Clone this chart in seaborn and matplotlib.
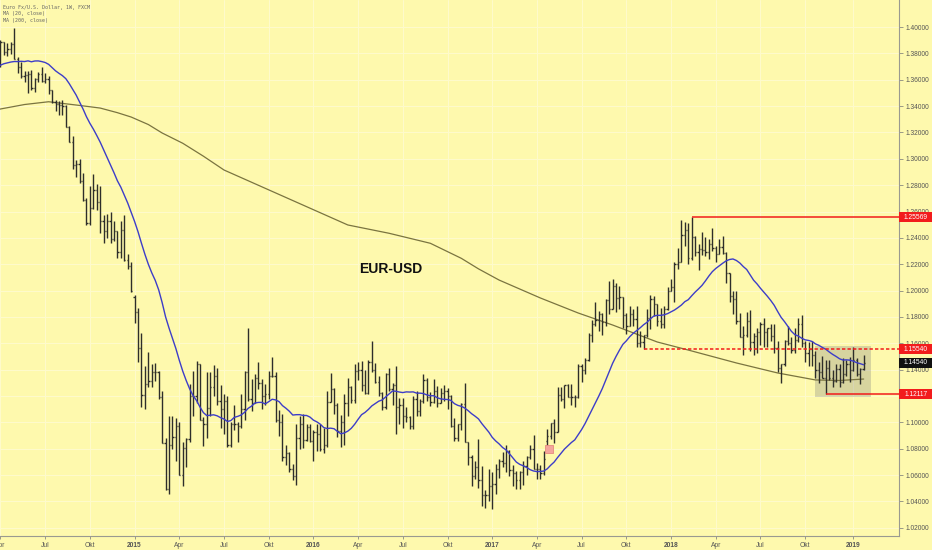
import matplotlib
matplotlib.use("Agg")
import matplotlib.pyplot as plt
import matplotlib.dates as mdates
from matplotlib.patches import Rectangle
from matplotlib.transforms import blended_transform_factory
from matplotlib.ticker import FormatStrFormatter
import numpy as np
import pandas as pd
import seaborn as sns

sns.set_theme(style="white")
plt.rcParams['font.family'] = ['Liberation Sans', 'DejaVu Sans']

# ---------------- data (weekly EUR/USD bars, week starting Monday) ----------------
first_week = "2014-03-31"

# closes before the visible window, only used for the 20-week average
pre_closes = [1.3590, 1.3590, 1.3705, 1.3740, 1.3675, 1.3705, 1.3590, 1.3670, 1.3540, 1.3680,
              1.3485, 1.3635, 1.3690, 1.3745, 1.3805, 1.3910, 1.3915, 1.3790, 1.3750]

open_2014 = [1.3750, 1.3705, 1.3885, 1.3810, 1.3830, 1.3870, 1.3755, 1.3695, 1.3630, 1.3635,
             1.3645, 1.3540, 1.3605, 1.3645, 1.3590, 1.3605, 1.3525, 1.3430, 1.3415, 1.3410,
             1.3400, 1.3240, 1.3130, 1.2950, 1.2960, 1.2830, 1.2685, 1.2515, 1.2630, 1.2760,
             1.2670, 1.2525, 1.2455, 1.2525, 1.2390, 1.2450, 1.2290, 1.2460, 1.2230, 1.2190]
high_2014 = [1.3810, 1.3905, 1.3890, 1.3875, 1.3890, 1.3993, 1.3775, 1.3735, 1.3670, 1.3670,
             1.3675, 1.3615, 1.3655, 1.3700, 1.3650, 1.3625, 1.3525, 1.3445, 1.3440, 1.3445,
             1.3405, 1.3250, 1.3170, 1.2990, 1.3000, 1.2890, 1.2700, 1.2790, 1.2885, 1.2810,
             1.2790, 1.2575, 1.2580, 1.2600, 1.2530, 1.2455, 1.2530, 1.2570, 1.2280, 1.2220]
low_2014 = [1.3673, 1.3700, 1.3790, 1.3780, 1.3795, 1.3755, 1.3650, 1.3615, 1.3585, 1.3503,
            1.3525, 1.3510, 1.3585, 1.3585, 1.3575, 1.3490, 1.3420, 1.3365, 1.3335, 1.3335,
            1.3240, 1.3130, 1.2920, 1.2860, 1.2820, 1.2680, 1.2500, 1.2500, 1.2620, 1.2615,
            1.2440, 1.2360, 1.2400, 1.2360, 1.2380, 1.2245, 1.2250, 1.2225, 1.2165, 1.1990]
close_2014 = [1.3705, 1.3885, 1.3810, 1.3830, 1.3870, 1.3755, 1.3695, 1.3630, 1.3635, 1.3645,
              1.3540, 1.3605, 1.3645, 1.3590, 1.3605, 1.3525, 1.3430, 1.3415, 1.3410, 1.3400,
              1.3240, 1.3130, 1.2950, 1.2960, 1.2830, 1.2685, 1.2515, 1.2630, 1.2760, 1.2670,
              1.2525, 1.2455, 1.2525, 1.2390, 1.2450, 1.2290, 1.2460, 1.2230, 1.2190, 1.2000]

open_2015 = [1.1950, 1.1840, 1.1565, 1.1205, 1.1290, 1.1315, 1.1385, 1.1380, 1.1195, 1.0845,
             1.0495, 1.0825, 1.0890, 1.0970, 1.0600, 1.0805, 1.0875, 1.1200, 1.1200, 1.1445,
             1.1015, 1.0985, 1.1110, 1.1265, 1.1350, 1.1165, 1.1105, 1.1165, 1.0830, 1.0985,
             1.0985, 1.0970, 1.1105, 1.1385, 1.1180, 1.1150, 1.1340, 1.1300, 1.1200, 1.1215,
             1.1355, 1.1350, 1.1015, 1.1005, 1.0740, 1.0770, 1.0645, 1.0590, 1.0885, 1.0990,
             1.0865, 1.0965]
high_2015 = [1.1970, 1.1870, 1.1680, 1.1425, 1.1535, 1.1445, 1.1450, 1.1390, 1.1240, 1.0885,
             1.1045, 1.1050, 1.1035, 1.1000, 1.0850, 1.0885, 1.1290, 1.1390, 1.1465, 1.1445,
             1.1040, 1.1380, 1.1385, 1.1435, 1.1410, 1.1280, 1.1215, 1.1200, 1.1000, 1.1130,
             1.1000, 1.1215, 1.1390, 1.1715, 1.1330, 1.1370, 1.1460, 1.1330, 1.1295, 1.1390,
             1.1495, 1.1385, 1.1095, 1.1060, 1.0830, 1.0775, 1.0685, 1.0985, 1.1045, 1.1060,
             1.0990, 1.0990]
low_2015 = [1.1755, 1.1460, 1.1115, 1.1100, 1.1270, 1.1270, 1.1315, 1.1175, 1.0840, 1.0485,
            1.0460, 1.0800, 1.0710, 1.0600, 1.0520, 1.0660, 1.0850, 1.1050, 1.1150, 1.1015,
            1.0820, 1.0885, 1.1050, 1.1200, 1.1130, 1.0955, 1.0915, 1.0810, 1.0810, 1.0940,
            1.0850, 1.0960, 1.1020, 1.1160, 1.1085, 1.1150, 1.1250, 1.1105, 1.1135, 1.1180,
            1.1345, 1.1005, 1.0895, 1.0705, 1.0675, 1.0620, 1.0565, 1.0525, 1.0795, 1.0805,
            1.0860, 1.0850]
close_2015 = [1.1840, 1.1565, 1.1205, 1.1290, 1.1315, 1.1385, 1.1380, 1.1195, 1.0845, 1.0495,
              1.0825, 1.0890, 1.0970, 1.0600, 1.0805, 1.0875, 1.1200, 1.1200, 1.1445, 1.1015,
              1.0985, 1.1110, 1.1265, 1.1350, 1.1165, 1.1105, 1.1165, 1.0830, 1.0985, 1.0985,
              1.0970, 1.1105, 1.1385, 1.1180, 1.1150, 1.1340, 1.1300, 1.1200, 1.1215, 1.1355,
              1.1350, 1.1015, 1.1005, 1.0740, 1.0770, 1.0645, 1.0590, 1.0885, 1.0990, 1.0865,
              1.0965, 1.0860]

open_2016 = [1.0860, 1.0925, 1.0915, 1.0795, 1.0830, 1.1155, 1.1255, 1.1130, 1.0935, 1.1000,
             1.1150, 1.1270, 1.1170, 1.1390, 1.1400, 1.1285, 1.1225, 1.1455, 1.1400, 1.1310,
             1.1225, 1.1115, 1.1365, 1.1250, 1.1280, 1.1115, 1.1135, 1.1050, 1.1040, 1.0975,
             1.1175, 1.1085, 1.1165, 1.1325, 1.1195, 1.1155, 1.1235, 1.1150, 1.1225, 1.1240,
             1.1200, 1.0970, 1.0880, 1.0985, 1.1140, 1.0855, 1.0735, 1.0590, 1.0665, 1.0560,
             1.0450, 1.0450]
high_2016 = [1.0945, 1.0990, 1.0990, 1.0960, 1.1240, 1.1375, 1.1260, 1.1145, 1.1055, 1.1215,
             1.1340, 1.1275, 1.1440, 1.1455, 1.1465, 1.1400, 1.1470, 1.1616, 1.1450, 1.1350,
             1.1230, 1.1375, 1.1415, 1.1300, 1.1425, 1.1185, 1.1185, 1.1120, 1.1050, 1.1200,
             1.1235, 1.1175, 1.1365, 1.1340, 1.1230, 1.1330, 1.1275, 1.1260, 1.1280, 1.1260,
             1.1205, 1.1035, 1.0990, 1.1145, 1.1300, 1.0855, 1.0750, 1.0710, 1.0875, 1.0670,
             1.0485, 1.0650]
low_2016 = [1.0710, 1.0780, 1.0780, 1.0770, 1.0810, 1.1155, 1.1065, 1.0890, 1.0810, 1.0825,
            1.1050, 1.1145, 1.1145, 1.1325, 1.1235, 1.1215, 1.1215, 1.1385, 1.1300, 1.1200,
            1.1095, 1.1100, 1.1240, 1.1130, 1.0915, 1.0990, 1.0955, 1.1000, 1.0950, 1.0950,
            1.1045, 1.1045, 1.1145, 1.1160, 1.1125, 1.1150, 1.1120, 1.1145, 1.1160, 1.1105,
            1.0965, 1.0860, 1.0860, 1.0940, 1.0850, 1.0680, 1.0520, 1.0570, 1.0505, 1.0365,
            1.0350, 1.0400]
close_2016 = [1.0925, 1.0915, 1.0795, 1.0830, 1.1155, 1.1255, 1.1130, 1.0935, 1.1000, 1.1150,
              1.1270, 1.1170, 1.1390, 1.1400, 1.1285, 1.1225, 1.1455, 1.1400, 1.1310, 1.1225,
              1.1115, 1.1365, 1.1250, 1.1280, 1.1115, 1.1135, 1.1050, 1.1040, 1.0975, 1.1175,
              1.1085, 1.1165, 1.1325, 1.1195, 1.1155, 1.1235, 1.1150, 1.1225, 1.1240, 1.1200,
              1.0970, 1.0880, 1.0985, 1.1140, 1.0855, 1.0735, 1.0590, 1.0665, 1.0560, 1.0450,
              1.0450, 1.0520]

open_2017 = [1.0520, 1.0535, 1.0645, 1.0705, 1.0695, 1.0785, 1.0640, 1.0615, 1.0560, 1.0620,
             1.0670, 1.0735, 1.0800, 1.0650, 1.0645, 1.0615, 1.0860, 1.0895, 1.0995, 1.0930,
             1.1210, 1.1180, 1.1280, 1.1195, 1.1195, 1.1195, 1.1425, 1.1400, 1.1470, 1.1665,
             1.1750, 1.1775, 1.1820, 1.1760, 1.1925, 1.1860, 1.2035, 1.1945, 1.1950, 1.1815,
             1.1735, 1.1820, 1.1785, 1.1605, 1.1610, 1.1665, 1.1795, 1.1935, 1.1895, 1.1770,
             1.1745, 1.1860]
high_2017 = [1.0620, 1.0685, 1.0720, 1.0775, 1.0830, 1.0790, 1.0680, 1.0630, 1.0630, 1.0705,
             1.0745, 1.0830, 1.0905, 1.0690, 1.0680, 1.0780, 1.0950, 1.0995, 1.1025, 1.1265,
             1.1270, 1.1285, 1.1295, 1.1295, 1.1205, 1.1445, 1.1445, 1.1490, 1.1680, 1.1775,
             1.1910, 1.1845, 1.1830, 1.1940, 1.2070, 1.2090, 1.2060, 1.2035, 1.1955, 1.1830,
             1.1880, 1.1860, 1.1880, 1.1690, 1.1665, 1.1860, 1.1965, 1.1960, 1.1900, 1.1865,
             1.1880, 1.2025]
low_2017 = [1.0340, 1.0455, 1.0580, 1.0660, 1.0620, 1.0590, 1.0520, 1.0495, 1.0495, 1.0525,
            1.0600, 1.0720, 1.0650, 1.0570, 1.0570, 1.0600, 1.0820, 1.0875, 1.0840, 1.0925,
            1.1160, 1.1110, 1.1190, 1.1130, 1.1120, 1.1185, 1.1310, 1.1370, 1.1465, 1.1610,
            1.1730, 1.1690, 1.1660, 1.1735, 1.1825, 1.1860, 1.1840, 1.1860, 1.1715, 1.1670,
            1.1730, 1.1730, 1.1575, 1.1575, 1.1554, 1.1645, 1.1710, 1.1810, 1.1730, 1.1715,
            1.1720, 1.1855]
close_2017 = [1.0535, 1.0645, 1.0705, 1.0695, 1.0785, 1.0640, 1.0615, 1.0560, 1.0620, 1.0670,
              1.0735, 1.0800, 1.0650, 1.0645, 1.0615, 1.0725, 1.0895, 1.0995, 1.0930, 1.1210,
              1.1180, 1.1280, 1.1195, 1.1195, 1.1195, 1.1425, 1.1400, 1.1470, 1.1665, 1.1750,
              1.1775, 1.1820, 1.1760, 1.1925, 1.1860, 1.2035, 1.1945, 1.1950, 1.1815, 1.1735,
              1.1820, 1.1785, 1.1605, 1.1610, 1.1665, 1.1795, 1.1935, 1.1895, 1.1770, 1.1745,
              1.1860, 1.2000]

open_2018 = [1.2000, 1.2030, 1.2200, 1.2220, 1.2425, 1.2460, 1.2250, 1.2405, 1.2295, 1.2315,
             1.2310, 1.2290, 1.2350, 1.2325, 1.2280, 1.2330, 1.2285, 1.2130, 1.1960, 1.1940,
             1.1770, 1.1650, 1.1660, 1.1770, 1.1610, 1.1655, 1.1685, 1.1745, 1.1685, 1.1720,
             1.1655, 1.1565, 1.1410, 1.1440, 1.1620, 1.1600, 1.1550, 1.1625, 1.1750, 1.1605,
             1.1525, 1.1560, 1.1510, 1.1400, 1.1385, 1.1335, 1.1415, 1.1335, 1.1315, 1.1405,
             1.1305, 1.1370, 1.1440]
high_2018 = [1.2090, 1.2220, 1.2325, 1.2537, 1.2520, 1.2510, 1.25569, 1.2415, 1.2355, 1.2445,
             1.2410, 1.2390, 1.2475, 1.2335, 1.2395, 1.2415, 1.2290, 1.2135, 1.1995, 1.1995,
             1.1830, 1.1730, 1.1840, 1.1850, 1.1675, 1.1720, 1.1760, 1.1790, 1.1720, 1.1750,
             1.1745, 1.1620, 1.1445, 1.1625, 1.1735, 1.1650, 1.1720, 1.1790, 1.1815, 1.1620,
             1.1610, 1.1620, 1.1545, 1.1455, 1.1500, 1.1475, 1.1470, 1.1400, 1.1440, 1.1440,
             1.1485, 1.1475, 1.1495]
low_2018 = [1.1995, 1.1915, 1.2165, 1.2215, 1.2335, 1.2205, 1.2235, 1.2260, 1.2155, 1.2270,
            1.2260, 1.2240, 1.2300, 1.2215, 1.2275, 1.2275, 1.2055, 1.1910, 1.1820, 1.1750,
            1.1645, 1.1510, 1.1645, 1.1540, 1.1510, 1.1525, 1.1590, 1.1575, 1.1575, 1.1615,
            1.1530, 1.1385, 1.1301, 1.1430, 1.1590, 1.1525, 1.1525, 1.1610, 1.1570, 1.1460,
            1.1430, 1.1430, 1.1335, 1.1300, 1.1335, 1.12117, 1.1325, 1.1265, 1.1310, 1.1270,
            1.1300, 1.1355, 1.1310]
close_2018 = [1.2030, 1.2200, 1.2220, 1.2425, 1.2460, 1.2250, 1.2405, 1.2295, 1.2315, 1.2310,
              1.2290, 1.2350, 1.2325, 1.2280, 1.2330, 1.2285, 1.2130, 1.1960, 1.1940, 1.1770,
              1.1650, 1.1660, 1.1770, 1.1610, 1.1655, 1.1685, 1.1745, 1.1685, 1.1720, 1.1655,
              1.1565, 1.1410, 1.1440, 1.1620, 1.1600, 1.1550, 1.1625, 1.1750, 1.1605, 1.1525,
              1.1560, 1.1510, 1.1400, 1.1385, 1.1335, 1.1415, 1.1335, 1.1315, 1.1405, 1.1305,
              1.1370, 1.1440, 1.1395]

open_2019 = [1.1395, 1.1470, 1.1365, 1.1405]
high_2019 = [1.1570, 1.1485, 1.1415, 1.1515]
low_2019 = [1.1390, 1.1355, 1.1290, 1.1400]
close_2019 = [1.1470, 1.1365, 1.1405, 1.14540]

# 200-week moving average
ma200_dates = ["2014-03-24", "2014-04-07", "2014-05-26", "2014-07-14", "2014-09-15", "2014-10-27",
               "2014-12-01", "2014-12-29", "2015-02-02", "2015-03-02", "2015-04-13", "2015-05-25",
               "2015-07-06", "2015-09-28", "2015-12-21", "2016-03-14", "2016-06-06", "2016-08-29",
               "2016-10-31", "2016-12-05", "2017-01-16", "2017-04-10", "2017-06-26", "2017-09-04",
               "2017-12-04", "2018-02-05", "2018-05-14", "2018-08-06", "2018-10-22", "2018-12-10",
               "2019-01-28"]
ma200_values = [1.3365, 1.3378, 1.3412, 1.3433, 1.3405, 1.3385,
                1.3350, 1.3317, 1.3260, 1.3196, 1.3118, 1.3020,
                1.2915, 1.2776, 1.2637, 1.2498, 1.2435, 1.2359,
                1.2245, 1.2165, 1.2080, 1.1944, 1.1830, 1.1739,
                1.1610, 1.1549, 1.1451, 1.1375, 1.1322, 1.1318,
                1.1329]

# annotations
level_prices = [1.25569, 1.15540, 1.14540, 1.12117]
level_labels = ["1.25569", "1.15540", "1.14540", "1.12117"]
level_colors = ["#f21c1c", "#f21c1c", "#111111", "#f21c1c"]
line_starts = {"1.25569": "2018-02-12", "1.15540": "2017-11-06", "1.12117": "2018-11-12"}
box_dates = ["2018-10-22", "2019-02-11"]
box_prices = [1.1193, 1.1580]
gap_marker_date = ["2017-04-28"]
gap_marker_price = [1.0795]

xtick_dates = ["2014-04-07", "2014-07-07", "2014-10-06", "2015-01-05", "2015-04-06", "2015-07-06",
               "2015-10-05", "2016-01-04", "2016-04-04", "2016-07-04", "2016-10-03", "2017-01-02",
               "2017-04-03", "2017-07-03", "2017-10-02", "2018-01-01", "2018-04-02", "2018-07-02",
               "2018-10-01", "2019-01-07"]
xtick_labels = ["Apr", "Jul", "Okt", "2015", "Apr", "Jul", "Okt", "2016", "Apr", "Jul", "Okt",
                "2017", "Apr", "Jul", "Okt", "2018", "Apr", "Jul", "Okt", "2019"]
ytick_values = [1.02, 1.04, 1.06, 1.08, 1.10, 1.12, 1.14, 1.16, 1.18, 1.20,
                1.22, 1.24, 1.26, 1.28, 1.30, 1.32, 1.34, 1.36, 1.38, 1.40]

# ---------------- assemble ----------------
opens = open_2014 + open_2015 + open_2016 + open_2017 + open_2018 + open_2019
highs = high_2014 + high_2015 + high_2016 + high_2017 + high_2018 + high_2019
lows = low_2014 + low_2015 + low_2016 + low_2017 + low_2018 + low_2019
closes = close_2014 + close_2015 + close_2016 + close_2017 + close_2018 + close_2019

dates = pd.date_range(first_week, periods=len(closes), freq="7D")
xnum = mdates.date2num(dates)
ma20 = pd.Series(pre_closes + closes).rolling(20).mean().iloc[len(pre_closes):].to_numpy()
df = pd.DataFrame({"x": xnum, "open": opens, "high": highs, "low": lows,
                   "close": closes, "ma20": ma20})
ma200_df = pd.DataFrame({"x": mdates.date2num(pd.to_datetime(ma200_dates)), "ma200": ma200_values})

# ---------------- figure ----------------
W, H = 932, 550
bg = "#fef9ad"
fig = plt.figure(figsize=(W / 100, H / 100), dpi=100)
fig.patch.set_facecolor(bg)
ax = fig.add_axes([0, 14 / H, 899 / W, 536 / H])
ax.set_facecolor(bg)

x_left = mdates.date2num(pd.Timestamp("2014-04-06"))
x_right = mdates.date2num(pd.Timestamp("2019-04-10"))
ax.set_xlim(x_left, x_right)
ax.set_ylim(1.0138, 1.4205)

# grid
ax.set_xticks(mdates.date2num(pd.to_datetime(xtick_dates)))
ax.set_xticklabels(xtick_labels)
ax.set_yticks(ytick_values)
ax.grid(True, color="#fffbcc", lw=0.7, zorder=0)
ax.set_axisbelow(True)

# moving averages
sns.lineplot(data=ma200_df, x="x", y="ma200", ax=ax, color="#7a7440", lw=0.9,
             errorbar=None, zorder=2)
sns.lineplot(data=df, x="x", y="ma20", ax=ax, color="#3d3dc8", lw=1.0,
             errorbar=None, zorder=4)

# OHLC bars
tick = 2.4  # days
bar_col = "#2e2e2a"
ax.vlines(df["x"], df["low"], df["high"], color=bar_col, lw=1.0, zorder=3)
ax.hlines(df["open"], df["x"] - tick, df["x"], color=bar_col, lw=1.0, zorder=3)
ax.hlines(df["close"], df["x"], df["x"] + tick, color=bar_col, lw=1.0, zorder=3)

# consolidation box
bx = mdates.date2num(pd.to_datetime(box_dates))
ax.add_patch(Rectangle((bx[0], box_prices[0]), bx[1] - bx[0], box_prices[1] - box_prices[0],
                       facecolor="#808080", alpha=0.3, edgecolor="none", zorder=1.5))

# gap marker
ax.scatter(mdates.date2num(pd.to_datetime(gap_marker_date)), gap_marker_price, marker="s", s=26,
           facecolor="#f4a59c", edgecolor="#e68a80", linewidths=0.6, zorder=5)

# horizontal levels
ls_map = {"1.25569": "-", "1.15540": (0, (2.2, 1.4)), "1.12117": "-"}
for lab, start in line_starts.items():
    p = level_prices[level_labels.index(lab)]
    ax.hlines(p, mdates.date2num(pd.Timestamp(start)), x_right, color="#f21c1c",
              lw=1.1, linestyles=ls_map[lab], zorder=5)

# price labels on the right scale
trans = blended_transform_factory(ax.transAxes, ax.transData)
box_h = 10 / 1318
for p, lab, col in zip(level_prices, level_labels, level_colors):
    ax.add_patch(Rectangle((1.0, p - box_h / 2), 33 / 899, box_h, transform=trans,
                           facecolor=col, edgecolor="none", clip_on=False, zorder=10))
    ax.text(1.0 + 17 / 899, p, lab, transform=trans, ha="center", va="center",
            fontsize=4.8, color="white", clip_on=False, zorder=11)

# axes styling
ax.yaxis.tick_right()
ax.yaxis.set_major_formatter(FormatStrFormatter("%.5f"))
for s in ["top", "left"]:
    ax.spines[s].set_visible(False)
for s in ["right", "bottom"]:
    ax.spines[s].set_color("#9a9a90")
    ax.spines[s].set_linewidth(0.8)
ax.tick_params(axis="y", which="major", right=True, left=False, labelright=True, labelleft=False,
               length=3, width=0.6, color="#8a8a80", labelsize=4.8, labelcolor="#555555", pad=2)
ax.tick_params(axis="x", which="major", bottom=True, length=2, width=0.6, color="#8a8a80",
               labelsize=4.8, labelcolor="#555555", pad=2.5)
for lbl in ax.get_xticklabels():
    if lbl.get_text().isdigit():
        lbl.set_fontweight("bold")
ax.set_xlabel("")
ax.set_ylabel("")

# header texts
ax.text(3 / 899, 1 - 7 / 536, "Euro Fx/U.S. Dollar, 1W, FXCM", transform=ax.transAxes,
        fontsize=3.6, family="DejaVu Sans Mono", color="#666666", va="center", ha="left")
ax.text(3 / 899, 1 - 14 / 536, "MA (20, close)", transform=ax.transAxes,
        fontsize=3.6, family="DejaVu Sans Mono", color="#666666", va="center", ha="left")
ax.text(3 / 899, 1 - 20.5 / 536, "MA (200, close)", transform=ax.transAxes,
        fontsize=3.6, family="DejaVu Sans Mono", color="#666666", va="center", ha="left")

ax.text(391 / 899, 1 - 269 / 536, "EUR-USD", transform=ax.transAxes, fontsize=10,
        fontweight="bold", color="#111111", ha="center", va="center")

fig.savefig("out.png", dpi=100, facecolor=bg)
